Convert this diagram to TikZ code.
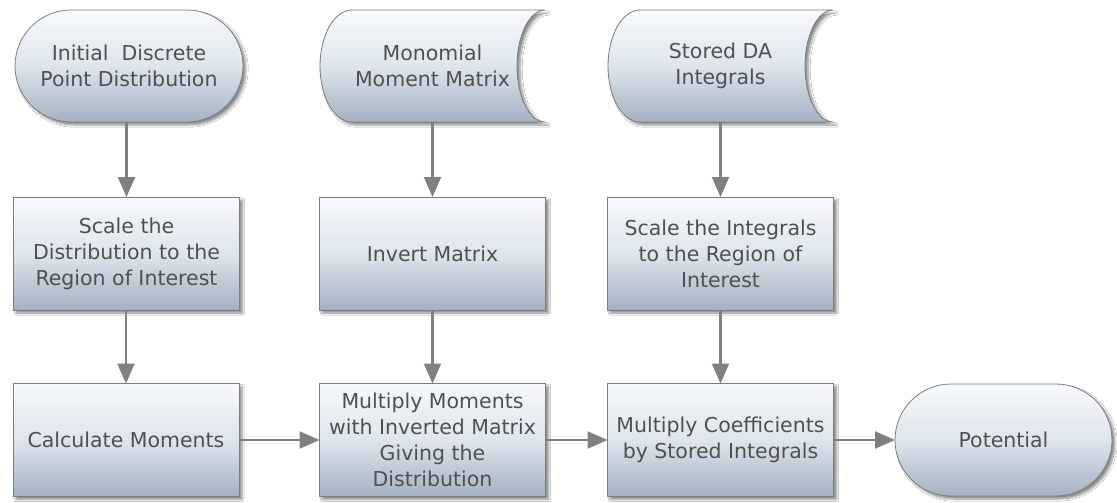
\documentclass[tikz,border=0pt]{standalone}
\usepackage{fontspec}
\setmainfont{DejaVu Sans}
\usetikzlibrary{arrows.meta,shadows.blur,shapes.misc}
\definecolor{topc}{RGB}{247,249,252}
\definecolor{midc}{RGB}{222,229,237}
\definecolor{botc}{RGB}{163,177,193}
\definecolor{bordc}{RGB}{125,125,125}
\definecolor{txtc}{RGB}{80,80,80}
\definecolor{arrc}{RGB}{128,128,128}
\tikzset{
  fillshade/.style={top color=topc, bottom color=botc, middle color=midc,
    blur shadow={shadow xshift=3pt, shadow yshift=-3pt, shadow blur steps=6, shadow opacity=45}},
  txt/.style={text=txtc, font=\fontsize{20.5}{26}\selectfont, align=center, inner sep=0pt, outer sep=0pt},
  procbox/.style={txt, fillshade, draw=bordc, line width=0.8pt, rectangle, minimum width=226pt, minimum height=113pt},
  termbox/.style={txt, fillshade, draw=bordc, line width=0.8pt, rounded rectangle, minimum width=228pt, minimum height=112pt},
  stbox/.style={txt, rectangle, minimum width=225pt, minimum height=112pt},
  stshape/.style={fillshade, draw=bordc, line width=0.8pt},
  arr/.style={draw=arrc, line width=2.2pt, -{Triangle[length=20pt,width=17pt]}}
}
\newcommand{\storeddata}[1]{%
  \begin{scope}[shift={#1}]
  \path[stshape] (-80.5,-56) -- (112.5,-56)
    arc[start angle=90, end angle=270, x radius=28pt, y radius=56pt]
    -- (-80.5,56)
    arc[start angle=270, end angle=90, x radius=32pt, y radius=56pt] -- cycle;
  \end{scope}}
\begin{document}
\begin{tikzpicture}[x=1pt,y=-1pt]
\useasboundingbox (0,0) rectangle (1117,503);
\fill[white] (0,0) rectangle (1117,503);
% stored data outlines
\storeddata{(432.5,66)}
\storeddata{(720.5,66)}
% row 1
\node[termbox] (init) at (129,66) {Initial\ \ Discrete\\Point Distribution};
\node[stbox] (mono) at (432.5,66) {Monomial\\Moment Matrix};
\node[stbox] (stor) at (720.5,66) {Stored DA\\Integrals};
% row 2
\node[procbox] (scd) at (126.5,253.5) {Scale the\\Distribution to the\\Region of Interest};
\node[procbox] (inv) at (432.5,253.5) {Invert Matrix};
\node[procbox] (sci) at (720.5,253.5) {Scale the Integrals\\to the Region of\\Interest};
% row 3
\node[procbox] (calc) at (126,440) {Calculate Moments};
\node[procbox] (mulm) at (432.5,440) {Multiply Moments\\with Inverted Matrix\\Giving the\\Distribution};
\node[procbox] (mulc) at (720.5,440) {Multiply Coefficients\\by Stored Integrals};
\node[termbox, minimum width=217pt] (pot) at (1003.5,440) {Potential};
% arrows
\draw[arr] (init.south -| scd.north) -- (scd.north);
\draw[arr] (mono) -- (inv);
\draw[arr] (stor) -- (sci);
\draw[arr] (scd.south -| calc.north) -- (calc.north);
\draw[arr] (inv) -- (mulm);
\draw[arr] (sci) -- (mulc);
\draw[arr] (calc) -- (mulm);
\draw[arr] (mulm) -- (mulc);
\draw[arr] (mulc) -- (pot);
\end{tikzpicture}
\end{document}
